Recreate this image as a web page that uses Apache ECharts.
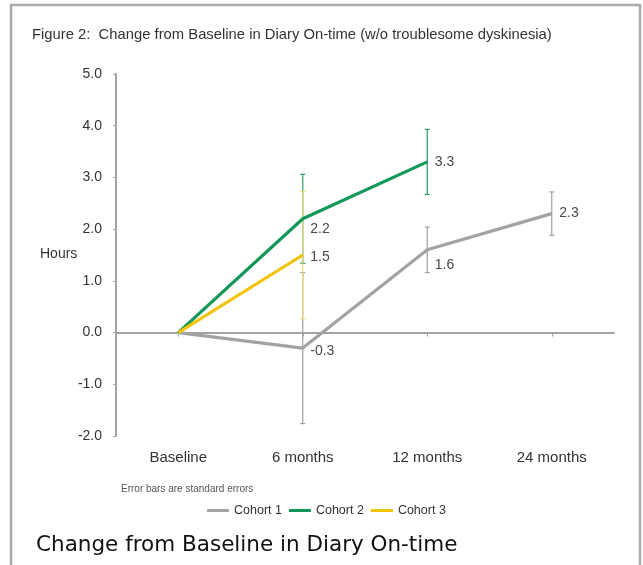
<!DOCTYPE html>
<html>
<head>
<meta charset="utf-8">
<script src="https://cdn.jsdelivr.net/npm/echarts@6/dist/echarts.min.js"></script>
<style>
html,body{margin:0;padding:0;background:#fff;}
#chart{width:643px;height:565px;}
</style>
</head>
<body>
<div id="chart"></div>
<script>
// ---- data ----
const categories = ['Baseline', '6 months', '12 months', '24 months'];
const seriesNames = ['Cohort 1', 'Cohort 2', 'Cohort 3'];
const cohort1 = [0, -0.3, 1.6, 2.3];
const cohort1Err = [null, 1.46, 0.44, 0.42];
const cohort2 = [0, 2.2, 3.3];
const cohort2Err = [null, 0.86, 0.63];
const cohort3 = [0, 1.5];
const cohort3Err = [null, 1.23];
const yMin = -2, yMax = 5, yInterval = 1;
const yAxisTitle = 'Hours';

// ---- styling ----
const FONT = '"Liberation Sans", Arial, sans-serif';
const colors = ['#a3a3a3', '#13985a', '#f2c40c'];
const errColors = ['#a0a0a0', '#2a9a62', '#ead775'];
const labelDy = [[0, 3, 15, 0], [0, 10, 0], [0, 2]];

const chart = echarts.init(document.getElementById('chart'));

function lineData(vals, si) {
  return vals.map((v, i) => ({
    value: v,
    label: i === 0 ? { show: false } : { show: true, offset: [0, labelDy[si][i]] }
  }));
}
function errData(vals, errs) {
  const out = [];
  vals.forEach((v, i) => { if (errs[i] != null) out.push([i, v, errs[i]]); });
  return out;
}
function errRender(color) {
  return function (params, api) {
    const x = api.value(0), v = api.value(1), e = api.value(2);
    const t = api.coord([x, v + e]);
    const b = api.coord([x, v - e]);
    const hw = 2.5;
    const st = { stroke: color, lineWidth: 1.2 };
    return {
      type: 'group',
      children: [
        { type: 'line', shape: { x1: t[0], y1: t[1], x2: b[0], y2: b[1] }, style: st },
        { type: 'line', shape: { x1: t[0] - hw, y1: t[1], x2: t[0] + hw, y2: t[1] }, style: st },
        { type: 'line', shape: { x1: b[0] - hw, y1: b[1], x2: b[0] + hw, y2: b[1] }, style: st }
      ]
    };
  };
}

const values = [cohort1, cohort2, cohort3];
const errs = [cohort1Err, cohort2Err, cohort3Err];

const series = [];
values.forEach((vals, si) => {
  series.push({
    type: 'custom',
    name: 'err' + si,
    xAxisIndex: 0,
    renderItem: errRender(errColors[si]),
    encode: { x: 0, y: 1 },
    data: errData(vals, errs[si]),
    z: 2,
    silent: true
  });
});
values.forEach((vals, si) => {
  series.push({
    type: 'line',
    name: seriesNames[si],
    xAxisIndex: 0,
    data: lineData(vals, si),
    color: colors[si],
    symbol: 'circle',
    symbolSize: 1,
    showSymbol: true,
    lineStyle: { width: 3.2, color: colors[si] },
    itemStyle: { color: colors[si] },
    label: {
      position: 'right',
      distance: 7,
      fontFamily: FONT,
      fontSize: 14,
      color: '#4a4a4a',
      formatter: p => p.value.toFixed(1)
    },
    z: 4,
    animation: false
  });
});

const option = {
  animation: false,
  backgroundColor: '#fff',
  grid: { left: 116, right: 29, top: 74, bottom: 129, containLabel: false },
  xAxis: [
    {
      type: 'category',
      data: categories,
      position: 'bottom',
      axisLine: { show: false, onZero: false },
      axisTick: { show: false },
      splitLine: { show: false },
      axisLabel: { fontFamily: FONT, fontSize: 15, color: '#333', margin: 14 }
    },
    {
      type: 'category',
      data: categories,
      position: 'bottom',
      axisLine: { show: true, onZero: true, lineStyle: { color: '#a3a3a3', width: 2 } },
      axisTick: { show: true, alignWithLabel: true, length: 4, lineStyle: { color: '#a3a3a3', width: 1 } },
      axisLabel: { show: false },
      splitLine: { show: false }
    }
  ],
  yAxis: {
    type: 'value',
    min: yMin,
    max: yMax,
    interval: yInterval,
    axisLine: { show: true, lineStyle: { color: '#a3a3a3', width: 2 } },
    axisTick: { show: true, length: 3, lineStyle: { color: '#a3a3a3' } },
    splitLine: { show: false },
    axisLabel: { fontFamily: FONT, fontSize: 14, color: '#333', margin: 14, formatter: v => v.toFixed(1) }
  },
  legend: {
    data: seriesNames,
    left: 202,
    top: 499,
    icon: 'rect',
    itemWidth: 22,
    itemHeight: 3,
    itemGap: 7,
    textStyle: { fontFamily: FONT, fontSize: 12.5, color: '#333' },
    selectedMode: false
  },
  graphic: [
    { type: 'rect', shape: { x: 11, y: 5, width: 629, height: 620 }, style: { fill: 'none', stroke: '#ababab', lineWidth: 2.5 }, silent: true },
    { type: 'text', x: 32, y: 35, style: { text: 'Figure 2:  Change from Baseline in Diary On-time (w/o troublesome dyskinesia)', font: '14.8px "Liberation Sans", Arial, sans-serif', fill: '#333', textVerticalAlign: 'middle' } },
    { type: 'text', x: 40, y: 254, style: { text: yAxisTitle, font: '14px "Liberation Sans", Arial, sans-serif', fill: '#333', textVerticalAlign: 'middle' } },
    { type: 'text', x: 121, y: 489, style: { text: 'Error bars are standard errors', font: '10px "Liberation Sans", Arial, sans-serif', fill: '#555', textVerticalAlign: 'middle' } },
    { type: 'text', x: 36, y: 545, style: { text: 'Change from Baseline in Diary On-time', font: '21.5px "DejaVu Sans", Verdana, sans-serif', fill: '#111', textVerticalAlign: 'middle' } }
  ],
  series: series
};
chart.setOption(option);
</script>
</body>
</html>
